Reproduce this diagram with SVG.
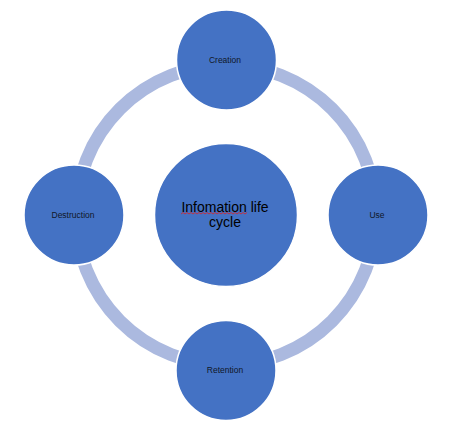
<svg xmlns="http://www.w3.org/2000/svg" width="451" height="426" viewBox="0 0 451 426">
<style>
.ring{fill:none;stroke:#abb9df;stroke-width:13}
.node{fill:#4472c4;stroke:#ffffff;stroke-width:1.5}
.lbl{font-family:"Liberation Sans",Arial,sans-serif;font-size:8.5px;fill:#101828;text-anchor:middle}
.big{font-family:"Liberation Sans",Arial,sans-serif;font-size:14px;fill:#000000;text-anchor:middle}
</style>
<rect width="451" height="426" fill="#ffffff"/>
<g id="connectors">
<path class="ring" d="M226,65 A150,150 0 0 1 376,215"/>
<path class="ring" d="M376,215 A150,150 0 0 1 226,365"/>
<path class="ring" d="M226,365 A150,150 0 0 1 76,215"/>
<path class="ring" d="M76,215 A150,150 0 0 1 226,65"/>
</g>
<g id="center">
<circle class="node" cx="226" cy="215" r="71.5"/>
<text class="big" x="225" y="212">Infomation life</text>
<text class="big" x="225" y="227">cycle</text>
<path d="M181,214 l2,-1.5 l2,1.5 l2,-1.5 l2,1.5 l2,-1.5 l2,1.5 l2,-1.5 l2,1.5 l2,-1.5 l2,1.5 l2,-1.5 l2,1.5 l2,-1.5 l2,1.5 l2,-1.5 l2,1.5 l2,-1.5 l2,1.5 l2,-1.5 l2,1.5 l2,-1.5 l2,1.5 l2,-1.5 l2,1.5 l2,-1.5 l2,1.5 l2,-1.5 l2,1.5 l2,-1.5 l2,1.5 l2,-1.5 l2,1.5 l2,-1.5" fill="none" stroke="#e0201f" stroke-width="0.8"/>
</g>
<g id="creation">
<circle class="node" cx="226.5" cy="60" r="50"/>
<text class="lbl" x="225" y="63">Creation</text>
</g>
<g id="use">
<circle class="node" cx="378" cy="215" r="50"/>
<text class="lbl" x="377" y="218">Use</text>
</g>
<g id="retention">
<circle class="node" cx="226" cy="370.5" r="50"/>
<text class="lbl" x="225" y="373">Retention</text>
</g>
<g id="destruction">
<circle class="node" cx="74" cy="215" r="50"/>
<text class="lbl" x="73" y="218">Destruction</text>
</g>
</svg>
